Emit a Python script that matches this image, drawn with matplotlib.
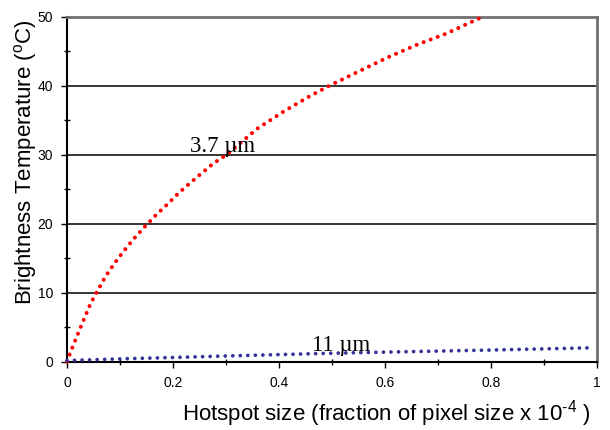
import matplotlib
matplotlib.use("Agg")
import matplotlib.pyplot as plt
from matplotlib.ticker import MultipleLocator

plt.rcParams['font.family'] = ['Liberation Sans', 'DejaVu Sans']
plt.rcParams['mathtext.fontset'] = 'custom'
plt.rcParams['mathtext.rm'] = 'Liberation Sans'
plt.rcParams['mathtext.it'] = 'Liberation Sans:italic'

# Data
x_37 = [0, 0.005, 0.0215, 0.044, 0.0585, 0.073, 0.090, 0.1077, 0.127, 0.147,
        0.167, 0.189, 0.210, 0.232, 0.255, 0.277, 0.301, 0.359, 0.409, 0.460,
        0.4995, 0.553, 0.607, 0.661, 0.716, 0.769, 0.784]
t_37 = [0, 1.06, 4.2, 8.35, 10.4, 12.4, 14.3, 16.1, 17.9, 19.6,
        21.2, 22.8, 24.4, 25.9, 27.4, 28.8, 30.0, 33.8, 36.3, 38.6,
        40.2, 42.2, 44.2, 46.0, 47.6, 49.5, 50.0]

x_11 = [0, 0.1, 0.2, 0.3, 0.4, 0.5, 0.6, 0.7, 0.8, 0.9, 0.985]
t_11 = [0.15, 0.4, 0.6, 0.82, 1.02, 1.22, 1.38, 1.53, 1.68, 1.85, 2.0]

x_ticks = [0, 0.2, 0.4, 0.6, 0.8, 1]
x_ticklabels = ["0", "0.2", "0.4", "0.6", "0.8", "1"]
y_ticks = [0, 10, 20, 30, 40, 50]

label_37 = "3.7 µm"
label_11 = "11 µm"

fig = plt.figure(figsize=(6.1, 4.3), dpi=100)
ax = fig.add_axes([0.1098, 0.159, 0.8689, 0.8015])

ax.set_xlim(0, 1)
ax.set_ylim(0, 50)

for y in [10, 20, 30, 40]:
    ax.axhline(y, color='black', lw=1.1, zorder=1)

ax.plot(x_37, t_37, color='#ff0000', lw=2.9, linestyle=(0, (0.01, 1.85)),
        dash_capstyle='round', zorder=3, clip_on=False)
ax.plot(x_11, t_11, color='#333399', lw=2.7, linestyle=(0, (0.01, 2.0)),
        dash_capstyle='round', zorder=3, clip_on=False)

ax.text(0.232, 30.4, label_37, family='Liberation Serif', fontsize=16.5,
        ha='left', va='baseline', zorder=4)
ax.text(0.463, 1.6, label_11, family='Liberation Serif', fontsize=16.5,
        ha='left', va='baseline', zorder=4)

ax.set_xticks(x_ticks)
ax.set_xticklabels(x_ticklabels)
ax.set_yticks(y_ticks)
ax.xaxis.set_minor_locator(MultipleLocator(0.1))
ax.yaxis.set_minor_locator(MultipleLocator(5))
ax.tick_params(axis='both', which='major', direction='out', length=4, width=1,
               labelsize=10, pad=6)
ax.tick_params(axis='both', which='minor', direction='inout', length=5, width=1)

for s in ['left', 'bottom']:
    ax.spines[s].set_color('black')
    ax.spines[s].set_linewidth(1.5)
for s in ['top', 'right']:
    ax.spines[s].set_color('#707070')
    ax.spines[s].set_linewidth(2)

ax.set_ylabel(r"Brightness Temperature ($^{\rm o}$C)", fontsize=16)
ax.yaxis.set_label_coords(-0.053, 0.58)
ax.set_xlabel(r"Hotspot size (fraction of pixel size x 10$^{\text{-4}}$ )",
              fontsize=16)
ax.xaxis.set_label_coords(0.603, -0.105)

fig.savefig("out.png", dpi=100)
